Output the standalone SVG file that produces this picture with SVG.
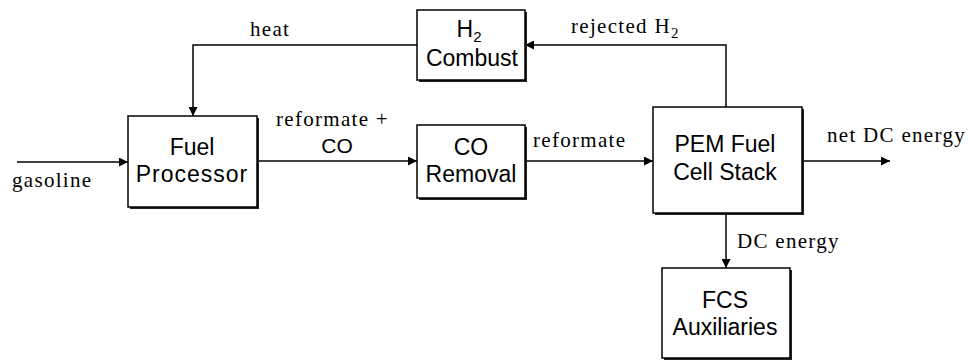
<svg xmlns="http://www.w3.org/2000/svg" width="968" height="360" viewBox="0 0 968 360">
<defs>
<marker id="arr" viewBox="0 0 10 10" refX="10" refY="5" markerWidth="9" markerHeight="9" markerUnits="userSpaceOnUse" orient="auto">
<path d="M0,0 L10,5 L0,10 z" fill="#000"/>
</marker>
<style>
.box{fill:#fff;stroke:#000;stroke-width:1.5}
.sh{fill:#222}
.bt{font-family:"Liberation Sans",Arial,sans-serif;font-size:23px;fill:#000;text-anchor:middle}
.lb{font-family:"Liberation Serif","Times New Roman",serif;font-size:21px;letter-spacing:1.3px;fill:#000}
.ln{fill:none;stroke:#000;stroke-width:1.5}
</style>
</defs>
<rect width="968" height="360" fill="#fff"/>
<g id="connectors">
<path class="ln" d="M17,162 H128" marker-end="url(#arr)"/>
<path class="ln" d="M417,45 H193 V116" marker-end="url(#arr)"/>
<path class="ln" d="M257,161 H417" marker-end="url(#arr)"/>
<path class="ln" d="M525,161 H653" marker-end="url(#arr)"/>
<path class="ln" d="M802,161 H890" marker-end="url(#arr)"/>
<path class="ln" d="M726,107 V45 H525" marker-end="url(#arr)"/>
<path class="ln" d="M726,213 V268" marker-end="url(#arr)"/>
<text class="lb" x="12" y="187">gasoline</text>
<text class="lb" x="250" y="36">heat</text>
<text class="lb" x="276" y="126">reformate +</text>
<text class="bt" x="337" y="153" style="font-size:21px">CO</text>
<text class="lb" x="533" y="147">reformate</text>
<text class="lb" x="827" y="142">net DC energy</text>
<text class="lb" x="571" y="33">rejected H<tspan dy="5" font-size="15">2</tspan></text>
<text class="lb" x="737" y="248">DC energy</text>
</g>
<g id="fuel-processor">
<rect class="sh" x="130" y="118" width="129" height="91"/>
<rect class="box" x="128" y="116" width="129" height="91"/>
<text class="bt" x="192" y="155">Fuel</text>
<text class="bt" x="192" y="182" letter-spacing="1">Processor</text>
</g>
<g id="h2-combust">
<rect class="sh" x="419" y="12" width="108" height="70"/>
<rect class="box" x="417" y="10" width="108" height="70"/>
<text class="bt" x="469" y="37">H<tspan dy="5" font-size="15">2</tspan></text>
<text class="bt" x="472" y="66">Combust</text>
</g>
<g id="co-removal">
<rect class="sh" x="419" y="127" width="108" height="73"/>
<rect class="box" x="417" y="125" width="108" height="73"/>
<text class="bt" x="471" y="155">CO</text>
<text class="bt" x="471" y="182">Removal</text>
</g>
<g id="pem-stack">
<rect class="sh" x="655" y="109" width="149" height="106"/>
<rect class="box" x="653" y="107" width="149" height="106"/>
<text class="bt" x="725" y="152">PEM Fuel</text>
<text class="bt" x="725" y="180">Cell Stack</text>
</g>
<g id="fcs-aux">
<rect class="sh" x="664" y="270" width="128" height="90"/>
<rect class="box" x="662" y="268" width="128" height="90"/>
<text class="bt" x="725" y="308">FCS</text>
<text class="bt" x="725" y="335">Auxiliaries</text>
</g>
</svg>
